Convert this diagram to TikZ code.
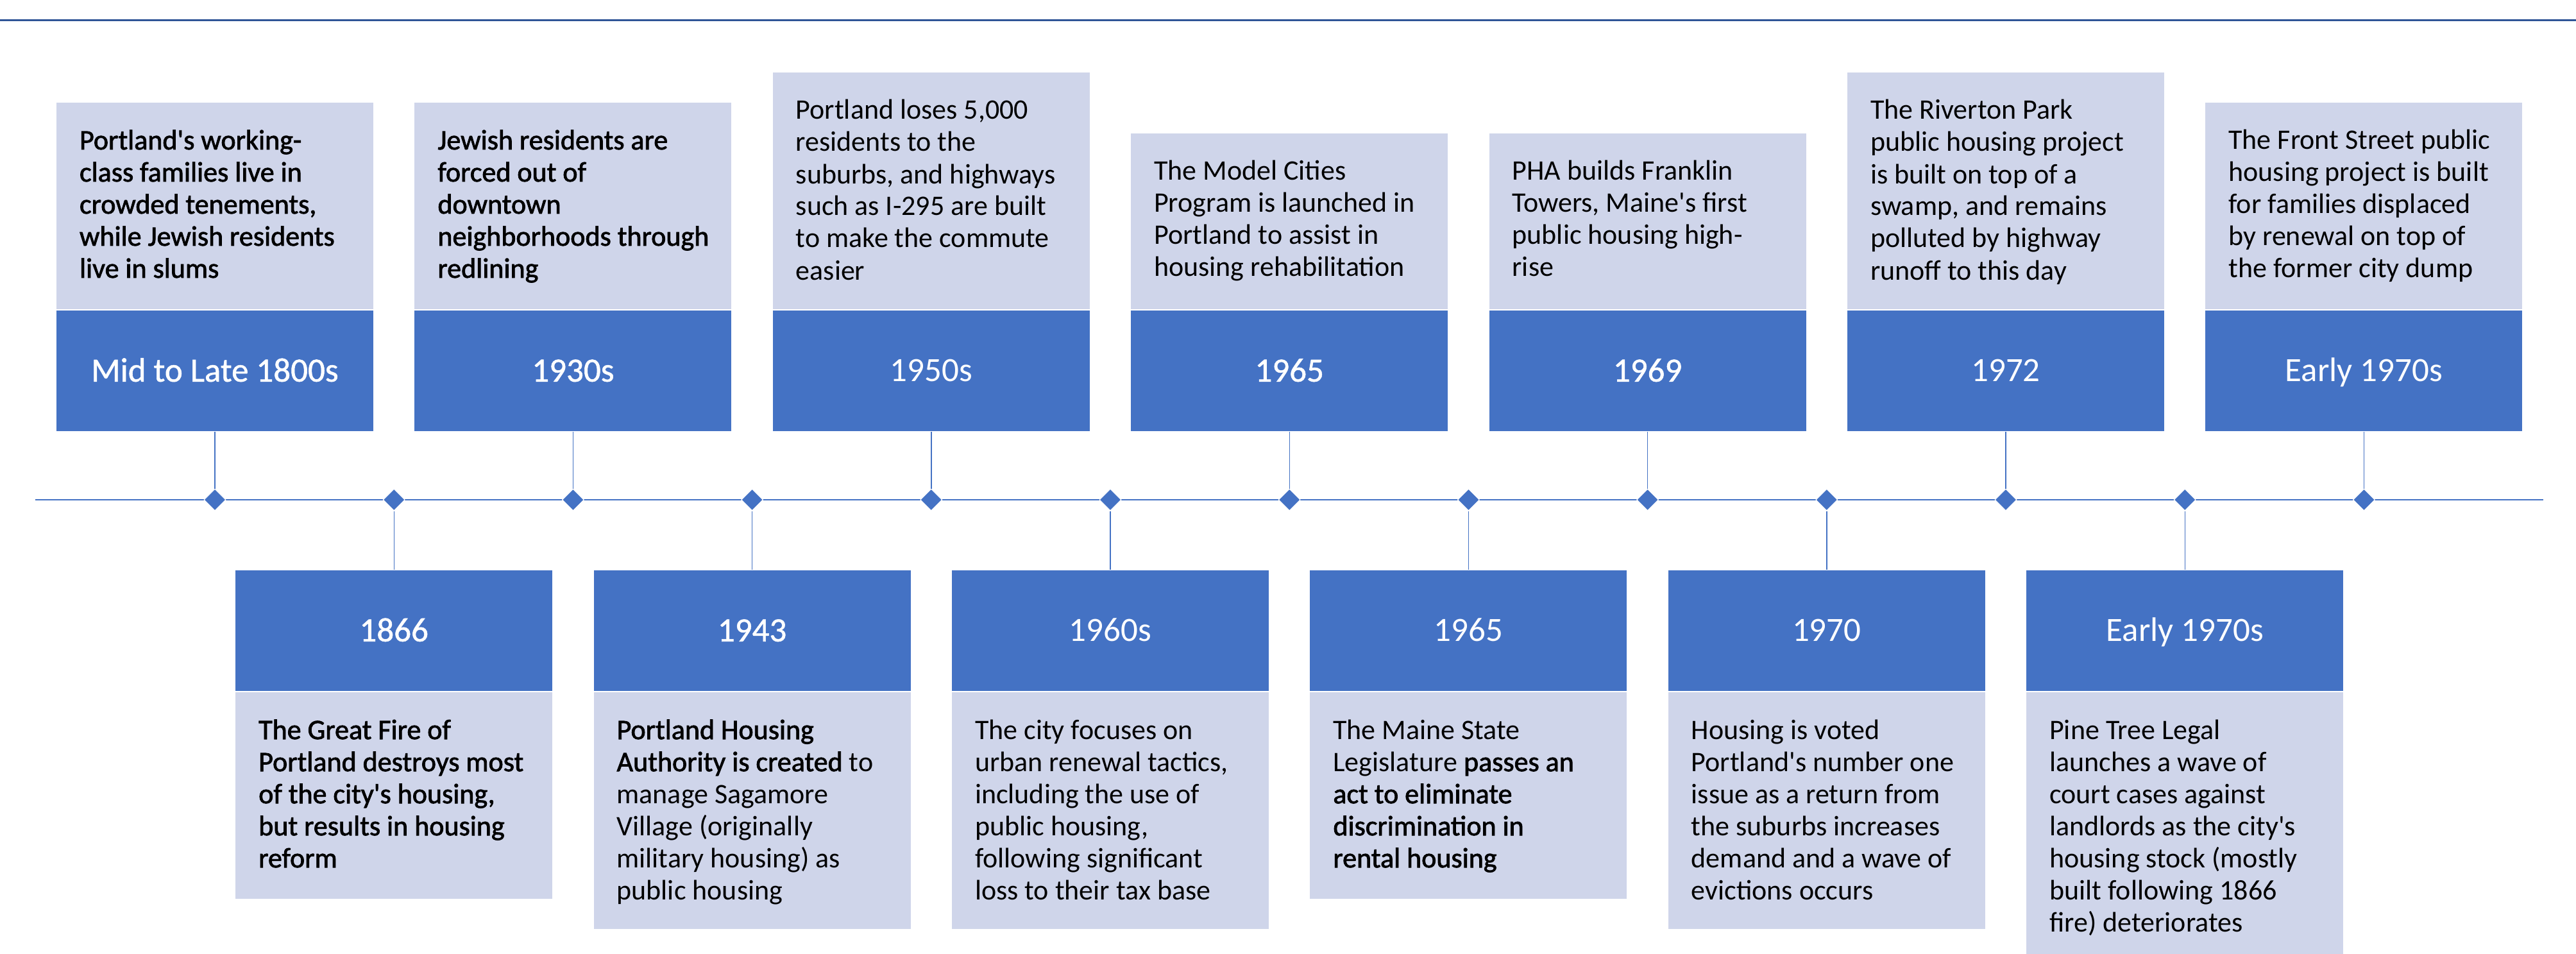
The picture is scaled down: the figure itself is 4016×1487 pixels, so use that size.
\documentclass[tikz,border=0pt]{standalone}
\usepackage{fontspec}
\setmainfont{Carlito}[Ligatures=TeXOff]
\newfontfamily\heavyyr{Carlito}[FakeBold=1,Ligatures=TeXOff]
\newfontfamily\semib{Carlito}[FakeBold=1.8,Ligatures=TeXOff]
\usetikzlibrary{shapes.geometric}
\definecolor{darkc}{HTML}{4472C4}
\definecolor{lightc}{HTML}{CFD5EA}
\definecolor{rulec}{HTML}{2F5597}
\newcommand\bodytext[1]{\parbox[t]{115pt}{\raggedright\fontsize{11pt}{12.5pt}\selectfont #1}}
\newcommand\emtxt[1]{{\semib #1}}
\begin{document}
\begin{tikzpicture}[x=0.25pt,y=-0.25pt,
  lt/.style={fill=lightc,draw=none,inner sep=0pt,minimum width=123.5pt,anchor=north},
  dk/.style={fill=darkc,draw=none,inner sep=0pt,minimum width=123.5pt,minimum height=47.125pt,anchor=north},
  yr/.style={text=white,font=\fontsize{13.25pt}{15pt}\selectfont,inner sep=0pt,anchor=base},
  bt/.style={inner sep=0pt,anchor=base west,text=black},
  dm/.style={diamond,fill=darkc,draw=white,line width=0.25pt,minimum width=8.5pt,minimum height=8.5pt,inner sep=0pt},
  cn/.style={draw=darkc,line width=0.35pt},
  axisline/.style={draw=darkc,line width=0.625pt},
  topline/.style={draw=rulec,line width=0.75pt},
]
\useasboundingbox (0,0) rectangle (4016,1487);

% top rule
\coordinate (tlL) at (0,32);
\coordinate (tlR) at (4016,32);
\draw[topline] (tlL) -- (tlR);

% ---------- upper events ----------
\node[lt,minimum height=80.625pt] (l1) at (335,159) {};
\node[dk] (k1) at (l1.south) {};
\node[yr] (y1) at ([yshift=-4.17pt]k1.center) {\heavyyr Mid to Late 1800s};
\node[bt] (b1) at ([xshift=9pt,yshift=-18.5pt]l1.north west) {\bodytext{\semib Portland's working-\\class families live in\\crowded tenements,\\while Jewish residents\\live in slums}};

\node[lt,minimum height=80.625pt] (l2) at (893.4,159) {};
\node[dk] (k2) at (l2.south) {};
\node[yr] (y2) at ([yshift=-4.17pt]k2.center) {\heavyyr 1930s};
\node[bt] (b2) at ([xshift=9pt,yshift=-18.5pt]l2.north west) {\bodytext{\semib Jewish residents are\\forced out of\\downtown\\neighborhoods through\\redlining}};

\node[lt,minimum height=92.375pt] (l3) at (1451.8,112) {};
\node[dk] (k3) at (l3.south) {};
\node[yr] (y3) at ([yshift=-4.17pt]k3.center) {1950s};
\node[bt] (b3) at ([xshift=9pt,yshift=-18.5pt]l3.north west) {\bodytext{Portland loses 5,000\\residents to the\\suburbs, and highways\\such as I-295 are built\\to make the commute\\easier}};

\node[lt,minimum height=68.625pt] (l4) at (2010.2,207) {};
\node[dk] (k4) at (l4.south) {};
\node[yr] (y4) at ([yshift=-4.17pt]k4.center) {\heavyyr 1965};
\node[bt] (b4) at ([xshift=9pt,yshift=-18.5pt]l4.north west) {\bodytext{The Model Cities\\Program is launched in\\Portland to assist in\\housing rehabilitation}};

\node[lt,minimum height=68.625pt] (l5) at (2568.6,207) {};
\node[dk] (k5) at (l5.south) {};
\node[yr] (y5) at ([yshift=-4.17pt]k5.center) {\heavyyr 1969};
\node[bt] (b5) at ([xshift=9pt,yshift=-18.5pt]l5.north west) {\bodytext{PHA builds Franklin\\Towers, Maine's first\\public housing high-\\rise}};

\node[lt,minimum height=92.375pt] (l6) at (3127,112) {};
\node[dk] (k6) at (l6.south) {};
\node[yr] (y6) at ([yshift=-4.17pt]k6.center) {1972};
\node[bt] (b6) at ([xshift=9pt,yshift=-18.5pt]l6.north west) {\bodytext{The Riverton Park\\public housing project\\is built on top of a\\swamp, and remains\\polluted by highway\\runoff to this day}};

\node[lt,minimum height=80.625pt] (l7) at (3685.4,159) {};
\node[dk] (k7) at (l7.south) {};
\node[yr] (y7) at ([yshift=-4.17pt]k7.center) {Early 1970s};
\node[bt] (b7) at ([xshift=9pt,yshift=-18.5pt]l7.north west) {\bodytext{The Front Street public\\housing project is built\\for families displaced\\by renewal on top of\\the former city dump}};

% ---------- lower events ----------
\node[dk] (k8) at (614.2,888) {};
\node[lt,minimum height=80.625pt] (l8) at (k8.south) {};
\node[yr] (y8) at ([yshift=-4.17pt]k8.center) {\heavyyr 1866};
\node[bt] (b8) at ([xshift=9pt,yshift=-18.5pt]l8.north west) {\bodytext{\semib The Great Fire of\\Portland destroys most\\of the city's housing,\\but results in housing\\reform}};

\node[dk] (k9) at (1172.6,888) {};
\node[lt,minimum height=92.375pt] (l9) at (k9.south) {};
\node[yr] (y9) at ([yshift=-4.17pt]k9.center) {\heavyyr 1943};
\node[bt] (b9) at ([xshift=9pt,yshift=-18.5pt]l9.north west) {\bodytext{\emtxt{Portland Housing}\\\emtxt{Authority is created} to\\manage Sagamore\\Village (originally\\military housing) as\\public housing}};

\node[dk] (k10) at (1731,888) {};
\node[lt,minimum height=92.375pt] (l10) at (k10.south) {};
\node[yr] (y10) at ([yshift=-4.17pt]k10.center) {1960s};
\node[bt] (b10) at ([xshift=9pt,yshift=-18.5pt]l10.north west) {\bodytext{The city focuses on\\urban renewal tactics,\\including the use of\\public housing,\\following significant\\loss to their tax base}};

\node[dk] (k11) at (2289.4,888) {};
\node[lt,minimum height=80.625pt] (l11) at (k11.south) {};
\node[yr] (y11) at ([yshift=-4.17pt]k11.center) {1965};
\node[bt] (b11) at ([xshift=9pt,yshift=-18.5pt]l11.north west) {\bodytext{The Maine State\\Legislature \emtxt{passes an}\\\emtxt{act to eliminate}\\\emtxt{discrimination in}\\\emtxt{rental housing}}};

\node[dk] (k12) at (2847.8,888) {};
\node[lt,minimum height=92.375pt] (l12) at (k12.south) {};
\node[yr] (y12) at ([yshift=-4.17pt]k12.center) {1970};
\node[bt] (b12) at ([xshift=9pt,yshift=-18.5pt]l12.north west) {\bodytext{Housing is voted\\Portland's number one\\issue as a return from\\the suburbs increases\\demand and a wave of\\evictions occurs}};

\node[dk] (k13) at (3406.2,888) {};
\node[lt,minimum height=102.625pt] (l13) at (k13.south) {};
\node[yr] (y13) at ([yshift=-4.17pt]k13.center) {Early 1970s};
\node[bt] (b13) at ([xshift=9pt,yshift=-18.5pt]l13.north west) {\bodytext{Pine Tree Legal\\launches a wave of\\court cases against\\landlords as the city's\\housing stock (mostly\\built following 1866\\fire) deteriorates}};

% ---------- axis ----------
\coordinate (axL) at (55,779);
\coordinate (axR) at (3965,779);
\draw[axisline] (axL) -- (axR);
\foreach \i/\x in {1/335,2/614.2,3/893.4,4/1172.6,5/1451.8,6/1731,7/2010.2,8/2289.4,9/2568.6,10/2847.8,11/3127,12/3406.2,13/3685.4}{
  \node[dm] (d\i) at (\x,779) {};
}
% connectors
\draw[cn] (k1.south) -- (d1.north);
\draw[cn] (k2.south) -- (d3.north);
\draw[cn] (k3.south) -- (d5.north);
\draw[cn] (k4.south) -- (d7.north);
\draw[cn] (k5.south) -- (d9.north);
\draw[cn] (k6.south) -- (d11.north);
\draw[cn] (k7.south) -- (d13.north);
\draw[cn] (d2.south) -- (k8.north);
\draw[cn] (d4.south) -- (k9.north);
\draw[cn] (d6.south) -- (k10.north);
\draw[cn] (d8.south) -- (k11.north);
\draw[cn] (d10.south) -- (k12.north);
\draw[cn] (d12.south) -- (k13.north);
\end{tikzpicture}
\end{document}
